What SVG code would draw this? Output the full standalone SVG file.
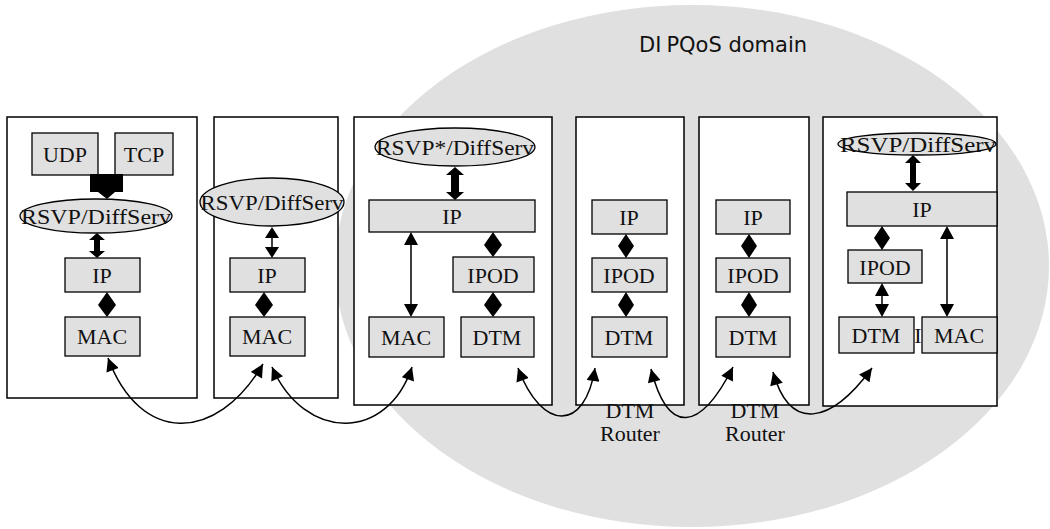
<svg xmlns="http://www.w3.org/2000/svg" width="1050" height="529" viewBox="0 0 1050 529">
  <style>
    .host { fill: #ffffff; stroke: #000; stroke-width: 1.5; }
    .layer { fill: #e0e0e0; stroke: #000; stroke-width: 1.3; }
    .lbl { font-family: "Liberation Serif", "Times New Roman", serif; font-size: 22px; fill: #111; text-anchor: middle; }
    .head { fill: #000; stroke: none; }
    .thin { stroke: #000; stroke-width: 1.5; fill: none; }
    .link { stroke: #000; stroke-width: 1.5; fill: none; marker-start: url(#tip); marker-end: url(#tip); }
  </style>
  <defs>
    <marker id="tip" viewBox="0 0 10 10" refX="10" refY="5" markerWidth="14" markerHeight="13" markerUnits="userSpaceOnUse" orient="auto-start-reverse">
      <path d="M0,0 L10,5 L0,10 z" fill="#000"/>
    </marker>
  </defs>
  <rect width="1050" height="529" fill="#fff"/>

  <!-- QoS domain background -->
  <g id="domain">
    <ellipse cx="692" cy="266" rx="357" ry="261" fill="#e0e0e0"/>
    <text x="639" y="52" font-family="'DejaVu Sans', Verdana, sans-serif" font-size="21" fill="#111">DI<tspan dx="5">PQoS domain</tspan></text>
  </g>

  <!-- end host -->
  <g id="host-a">
    <rect class="host" x="7" y="117" width="190" height="281"/>
    <g id="a-udp"><rect class="layer" x="32" y="133" width="66" height="42"/><text class="lbl" x="65" y="162">UDP</text></g>
    <g id="a-tcp"><rect class="layer" x="115" y="133" width="58" height="42"/><text class="lbl" x="144" y="162">TCP</text></g>
    <g id="a-rsvp"><ellipse class="layer" cx="96" cy="216" rx="76" ry="17"/><text class="lbl" x="96" y="224" textLength="150" lengthAdjust="spacingAndGlyphs">RSVP/DiffServ</text></g>
    <g id="a-ip"><rect class="layer" x="65" y="258" width="75" height="34"/><text class="lbl" x="102" y="283">IP</text></g>
    <g id="a-mac"><rect class="layer" x="65" y="317" width="75" height="39"/><text class="lbl" x="102" y="344">MAC</text></g>
  </g>

  <!-- edge router -->
  <g id="host-b">
    <rect class="host" x="214" y="117" width="124" height="281"/>
    <g id="b-rsvp"><ellipse class="layer" cx="272" cy="202" rx="72" ry="24"/><text class="lbl" x="272" y="210" textLength="143" lengthAdjust="spacingAndGlyphs">RSVP/DiffServ</text></g>
    <g id="b-ip"><rect class="layer" x="230" y="258" width="75" height="34"/><text class="lbl" x="267" y="283">IP</text></g>
    <g id="b-mac"><rect class="layer" x="230" y="317" width="75" height="39"/><text class="lbl" x="267" y="344">MAC</text></g>
  </g>

  <!-- ingress gateway -->
  <g id="gateway-in">
    <rect class="host" x="354" y="117" width="198" height="288"/>
    <g id="c-rsvp"><ellipse class="layer" cx="455" cy="147" rx="80" ry="19"/><text class="lbl" x="455" y="155" textLength="158" lengthAdjust="spacingAndGlyphs">RSVP*/DiffServ</text></g>
    <g id="c-ip"><rect class="layer" x="369" y="200" width="166" height="32"/><text class="lbl" x="452" y="224">IP</text></g>
    <g id="c-ipod"><rect class="layer" x="453" y="257" width="81" height="35"/><text class="lbl" x="493" y="283">IPOD</text></g>
    <g id="c-mac"><rect class="layer" x="369" y="317" width="75" height="40"/><text class="lbl" x="406" y="345">MAC</text></g>
    <g id="c-dtm"><rect class="layer" x="461" y="317" width="73" height="40"/><text class="lbl" x="497" y="345">DTM</text></g>
  </g>

  <!-- DTM routers -->
  <g id="router-1">
    <rect class="host" x="576" y="117" width="108" height="288"/>
    <g id="d-ip"><rect class="layer" x="592" y="200" width="75" height="34"/><text class="lbl" x="629" y="225">IP</text></g>
    <g id="d-ipod"><rect class="layer" x="592" y="258" width="75" height="34"/><text class="lbl" x="629" y="283">IPOD</text></g>
    <g id="d-dtm"><rect class="layer" x="592" y="317" width="75" height="40"/><text class="lbl" x="629" y="345">DTM</text></g>
    <text class="lbl" x="630" y="418">DTM</text>
    <text class="lbl" x="630" y="441">Router</text>
  </g>
  <g id="router-2">
    <rect class="host" x="699" y="117" width="110" height="288"/>
    <g id="e-ip"><rect class="layer" x="716" y="200" width="74" height="34"/><text class="lbl" x="753" y="225">IP</text></g>
    <g id="e-ipod"><rect class="layer" x="716" y="258" width="74" height="34"/><text class="lbl" x="753" y="283">IPOD</text></g>
    <g id="e-dtm"><rect class="layer" x="716" y="317" width="74" height="40"/><text class="lbl" x="753" y="345">DTM</text></g>
    <text class="lbl" x="755" y="418">DTM</text>
    <text class="lbl" x="755" y="441">Router</text>
  </g>

  <!-- egress gateway -->
  <g id="gateway-out">
    <rect class="host" x="823" y="117" width="174" height="289"/>
    <g id="f-rsvp"><ellipse class="layer" cx="917" cy="144" rx="79" ry="11"/><text class="lbl" x="918" y="152" textLength="156" lengthAdjust="spacingAndGlyphs">RSVP/DiffServ</text></g>
    <g id="f-ip"><rect class="layer" x="847" y="192" width="150" height="34"/><text class="lbl" x="922" y="217">IP</text></g>
    <g id="f-ipod"><rect class="layer" x="848" y="250" width="74" height="33"/><text class="lbl" x="885" y="275">IPOD</text></g>
    <g id="f-dtm"><rect class="layer" x="839" y="317" width="75" height="36"/><text class="lbl" x="876" y="343">DTM</text></g>
    <text class="lbl" x="918" y="343">I</text>
    <g id="f-mac"><rect class="layer" x="922" y="317" width="75" height="36"/><text class="lbl" x="959" y="343">MAC</text></g>
  </g>

  <g id="connectors">
    <!-- UDP/TCP into RSVP -->
    <rect class="head" x="90" y="174" width="33" height="18"/>
    <polygon class="head" points="98,192 115,192 107,199"/>
    <!-- thick double arrows -->
    <g class="head">
      <polygon points="97,233 105,240 100,240 100,251 105,251 97,258 89,251 94,251 94,240 89,240"/>
      <polygon points="455,167 464,175 459,175 459,192 464,192 455,200 446,192 451,192 451,175 446,175"/>
      <polygon points="913,155 921,163 916,163 916,183 921,183 913,191 905,183 910,183 910,163 905,163"/>
    </g>
    <!-- diamond links -->
    <g class="head">
      <polygon points="107,292 116,305 107,317 98,305"/>
      <polygon points="264,292 273,305 264,317 255,305"/>
      <polygon points="493,232 502,245 493,257 484,245"/>
      <polygon points="493,292 502,305 493,317 484,305"/>
      <polygon points="626,234 634,246 626,258 618,246"/>
      <polygon points="626,292 634,305 626,317 618,305"/>
      <polygon points="749,234 757,246 749,258 741,246"/>
      <polygon points="749,292 757,305 749,317 741,305"/>
    </g>
    <!-- thin double arrows -->
    <line class="thin" x1="272" y1="236" x2="272" y2="250"/>
    <polygon class="head" points="272,227 279,238 265,238"/>
    <polygon class="head" points="272,258 279,247 265,247"/>
    <line class="thin" x1="411" y1="242" x2="411" y2="307"/>
    <polygon class="head" points="411,232 418,245 404,245"/>
    <polygon class="head" points="411,317 418,304 404,304"/>
    <line class="thin" x1="947" y1="236" x2="947" y2="307"/>
    <polygon class="head" points="947,226 954,239 940,239"/>
    <polygon class="head" points="947,317 954,304 940,304"/>
    <line class="thin" x1="882" y1="234" x2="882" y2="242"/>
    <polygon class="head" points="882,226 890,238 874,238"/>
    <polygon class="head" points="882,250 890,238 874,238"/>
    <line class="thin" x1="882" y1="293" x2="882" y2="307"/>
    <polygon class="head" points="882,283 889,296 875,296"/>
    <polygon class="head" points="882,317 889,304 875,304"/>
    <!-- physical links -->
    <path class="link" d="M108,358 C140,444 216,444 263,364"/>
    <path class="link" d="M272,367 C305,442 387,442 412,367"/>
    <path class="link" d="M518,368 C542,432 585,432 595,368"/>
    <path class="link" d="M651,369 C668,436 700,432 733,367"/>
    <path class="link" d="M773,372 C790,432 830,425 872,368"/>
  </g>
</svg>
